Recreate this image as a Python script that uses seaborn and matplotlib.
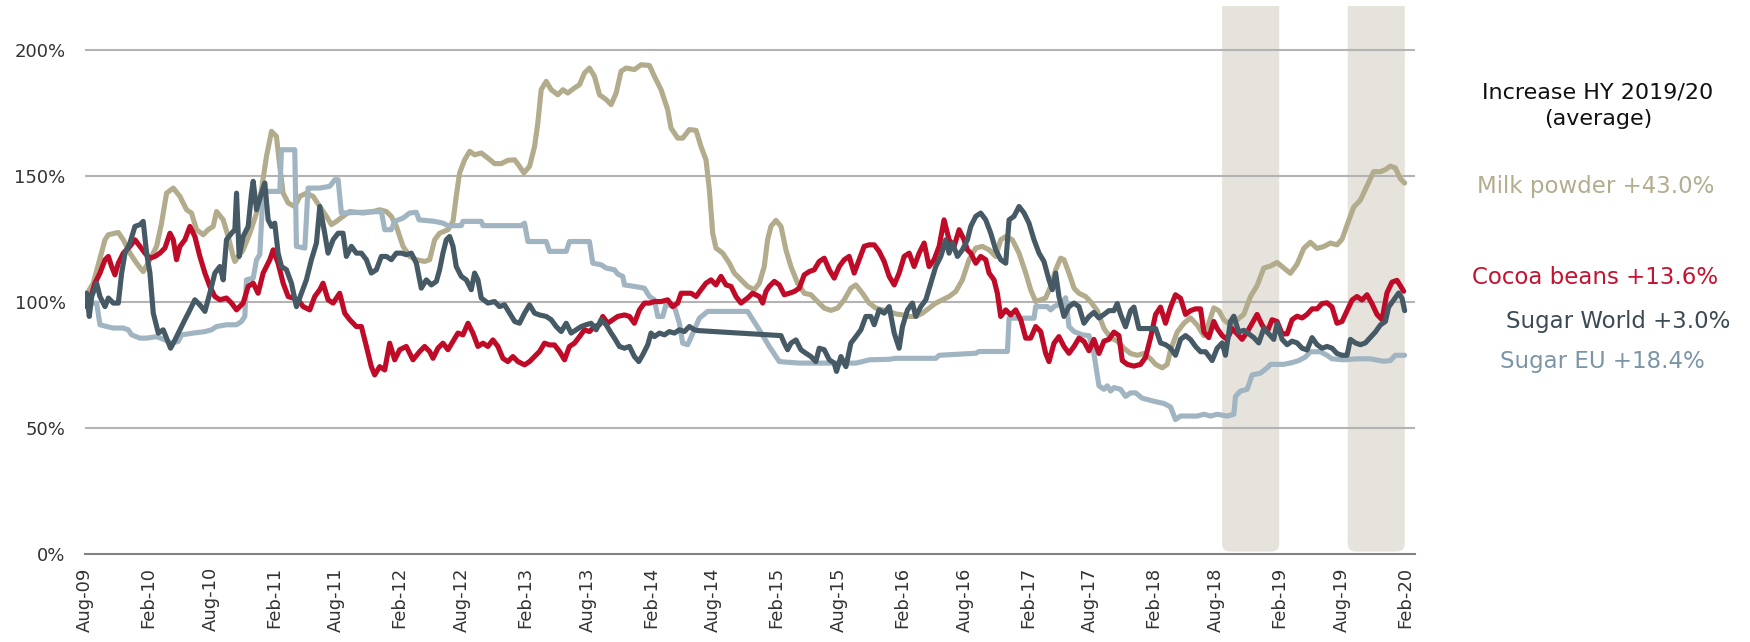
import numpy as np
import pandas as pd
import matplotlib
matplotlib.use("Agg")
import matplotlib.pyplot as plt
import matplotlib.dates as mdates
from matplotlib.patches import FancyBboxPatch
from matplotlib.transforms import blended_transform_factory
import seaborn as sns

# ---------------- data (x = months since Aug-2009, y = index in %) ----------------
milk_m = [0.16,0.79,1.91,2.23,3.18,3.66,4.29,4.93,5.41,5.56,6.20,6.84,7.31,7.79,8.43,9.06,9.70,10.17,10.65,11.29,11.76,12.24,12.56,13.20,13.67,14.15,14.31,15.10,15.74,16.38,16.85,17.33,17.81,18.28,18.60,18.92,19.40,20.03,20.51,21.14,21.78,22.42,23.05,23.53,24.01,24.64,25.28,26.55,27.50,28.14,28.78,29.25,29.73,30.37,31.00,31.64,32.43,32.91,33.39,33.86,34.66,35.14,35.45,35.77,36.25,36.73,37.20,37.84,38.47,39.11,39.75,40.38,41.03,41.49,41.91,42.45,42.93,43.24,43.56,44.04,44.52,45.15,45.63,46.10,46.74,47.22,47.69,48.17,48.65,49.13,49.76,50.24,50.72,51.19,51.67,52.46,53.10,53.90,54.37,55.01,55.64,55.96,56.60,57.07,57.71,58.35,58.82,59.30,59.62,59.94,60.25,60.89,61.53,62.00,62.64,63.27,63.91,64.39,64.86,65.18,65.50,65.98,66.46,66.93,67.41,68.04,68.68,69.32,69.95,70.59,71.22,71.86,72.50,73.13,73.61,74.24,74.88,75.52,76.15,76.79,77.42,78.06,78.70,79.33,79.97,80.60,81.24,81.88,82.51,83.15,83.78,84.42,85.06,85.69,86.33,86.96,87.44,87.92,88.55,89.19,89.83,90.30,90.78,91.26,91.73,92.21,92.69,93.16,93.48,93.96,94.44,94.91,95.55,96.03,96.66,97.30,97.93,98.57,99.21,99.84,100.48,101.11,101.75,102.23,102.86,103.34,103.66,104.29,104.93,105.56,106.20,106.84,107.31,107.79,108.27,108.74,109.38,110.02,110.65,111.29,111.92,112.56,113.20,113.83,114.47,115.10,115.74,116.38,117.01,117.65,118.28,118.92,119.55,120.03,120.51,121.14,121.78,122.42,123.05,123.69,124.17,124.64,125.12,125.60,126.01]
milk_v = [103,107.4,124.6,126.6,127.5,124.6,119.3,115.3,112.7,112.0,116.7,122.0,131.2,143.1,145.1,141.8,136.5,135.2,128.6,126.6,128.6,129.9,135.8,132.5,125.9,118.0,116.0,120.6,127.2,135.2,144.4,157.7,167.6,165.6,153.7,143.1,139.2,137.8,141.8,143.1,141.8,137.8,133.9,130.6,131.9,133.9,135.8,135.2,135.8,136.5,135.8,133.9,129.9,122.0,118.0,116.7,116.0,116.7,124.6,127.2,128.6,131.9,141.8,151.1,156.3,159.7,158.3,159.0,157.0,154.8,154.8,156.1,156.3,153.7,151.1,153.7,161.6,170.9,184.1,187.4,184.1,182.1,184.1,182.8,184.8,186.1,190.7,192.7,189.4,182.1,180.2,178.2,182.8,191.4,192.7,192.1,194.0,193.7,189.4,184.1,176.2,168.9,164.9,164.9,168.3,168.0,161.6,156.3,144.4,127.2,121.3,119.3,115.3,111.4,108.7,106.1,104.8,107.4,114.0,124.6,129.9,132.3,129.9,120.6,114.0,107.4,103.4,102.8,100.1,97.5,96.6,97.5,100.8,105.4,106.7,103.4,99.5,97.5,96.8,96.2,95.2,94.8,94.2,94.2,95.5,97.5,99.5,100.8,102.1,104.1,108.7,116.7,121.3,122.0,120.6,118.0,124.6,125.9,124.6,119.3,111.4,104.8,100.1,100.8,101.5,106.1,112.7,117.3,116.7,111.4,105.4,103.4,102.1,100.0,96.5,89.4,85.8,84.4,81.6,79.5,78.8,79.5,77.4,75.2,73.8,75.2,80.9,88.0,91.5,93.6,90.8,86.6,91.5,97.6,96.5,92.9,90.8,92.9,95.0,102.1,106.4,113.4,114.2,115.6,113.4,111.3,114.9,121.2,123.6,121.2,121.9,123.3,122.6,124.8,130.4,137.5,140.3,146.0,151.6,151.6,152.4,153.8,153.1,148.8,147.1]

cocoa_m = [0.16,0.48,0.95,1.43,1.91,2.23,2.54,2.86,3.18,3.66,4.29,4.77,5.25,5.72,6.20,6.68,7.15,7.63,8.11,8.43,8.74,9.06,9.54,10.02,10.49,10.97,11.45,11.92,12.40,12.88,13.51,13.99,14.47,15.10,15.58,16.06,16.53,17.01,17.65,17.97,18.44,18.92,19.40,19.87,20.35,20.83,21.46,21.94,22.42,22.73,23.21,23.69,24.32,24.80,25.28,25.91,26.39,26.87,27.34,27.66,28.14,28.62,29.09,29.57,30.05,30.68,31.32,31.96,32.43,32.91,33.23,33.70,34.18,34.66,35.14,35.61,36.09,36.57,37.04,37.52,38.00,38.47,38.95,39.43,39.90,40.38,40.86,41.34,41.97,42.45,42.93,43.40,43.88,44.36,44.83,45.31,45.79,46.26,46.74,47.22,47.69,48.17,48.65,49.13,49.44,49.92,50.40,50.87,51.51,51.99,52.46,52.94,53.42,53.90,54.37,55.01,55.64,56.12,56.60,56.92,57.39,57.87,58.35,58.82,59.30,59.78,60.25,60.73,61.21,61.69,62.16,62.64,63.27,63.75,64.39,64.71,65.02,65.34,65.82,66.30,66.77,67.25,67.73,68.20,68.68,69.16,69.63,70.11,70.59,71.07,71.54,72.02,72.50,72.97,73.45,73.93,74.40,74.88,75.36,75.83,76.31,76.79,77.27,77.74,78.22,78.70,79.17,79.65,80.13,80.60,81.08,81.56,82.03,82.51,82.99,83.47,83.94,84.26,84.58,85.06,85.53,86.01,86.33,86.80,87.12,87.44,87.92,88.39,88.87,89.35,89.83,90.30,90.78,91.26,91.73,92.05,92.53,93.00,93.48,93.96,94.44,94.91,95.39,95.87,96.34,96.82,97.30,97.77,98.25,98.73,99.05,99.52,100.16,100.79,101.27,101.75,102.23,102.70,103.18,103.66,104.13,104.61,105.09,105.56,106.04,106.52,106.84,107.31,107.79,108.11,108.59,109.06,109.54,110.02,110.49,110.97,111.45,111.92,112.40,112.88,113.35,113.83,114.31,114.79,115.26,115.74,116.22,116.69,117.17,117.65,118.12,118.60,119.08,119.55,120.03,120.51,120.99,121.46,121.94,122.42,122.89,123.37,123.85,124.32,124.80,125.28,125.60,125.91]
cocoa_v = [98.1,100.8,107.4,111.4,116.7,118.0,114.0,110.7,115.3,119.3,122.0,124.6,122.0,119.3,117.3,118.0,119.3,121.3,127.2,124.6,116.7,122.0,124.6,129.9,125.9,118.0,111.4,106.1,102.1,100.8,101.5,99.5,96.8,99.5,106.1,107.4,103.4,111.4,116.7,120.6,115.3,107.4,102.1,101.5,100.8,98.1,96.8,102.1,104.8,107.4,100.8,99.5,103.4,95.5,92.9,90.2,90.2,82.3,74.3,71.0,74.3,73.0,83.6,77.0,81.0,82.3,77.0,80.3,82.3,80.3,77.6,81.6,83.6,81.0,84.3,87.6,86.9,91.5,87.6,82.3,83.6,82.3,84.9,82.3,77.6,76.3,78.3,76.3,75.0,76.3,78.3,80.3,83.6,82.9,82.9,80.3,77.0,82.3,83.6,86.2,88.9,88.2,90.2,90.9,94.2,91.5,92.9,94.2,94.8,94.2,91.5,96.8,99.5,99.5,100.1,100.1,100.8,98.1,99.5,103.4,103.4,103.4,102.1,104.8,107.4,108.7,106.7,110.1,106.7,106.1,102.1,99.5,101.5,103.4,102.1,99.5,104.1,106.1,108.1,106.7,102.8,103.4,104.1,105.4,110.7,112.0,112.7,116.0,117.3,112.7,109.4,114.0,116.7,118.0,111.4,116.7,122.0,122.6,122.6,120.0,116.0,110.1,106.7,111.4,118.0,119.3,114.0,119.3,123.3,114.0,116.7,122.0,132.5,124.6,122.0,128.6,124.6,120.6,119.3,115.3,118.0,116.7,111.4,108.7,103.4,94.2,96.8,94.8,96.8,92.9,85.6,85.6,90.2,88.2,79.6,76.3,83.6,86.2,82.3,79.6,82.3,85.6,84.3,80.6,85.1,79.5,84.4,85.1,88.0,86.6,76.7,75.2,74.5,75.2,78.0,85.8,95.0,97.9,91.5,97.9,102.8,101.4,95.0,96.5,97.2,97.2,88.0,85.8,92.2,89.4,86.6,85.1,89.4,87.3,85.1,88.0,91.5,95.0,90.8,88.0,92.9,92.2,87.3,87.3,92.9,94.3,93.6,95.0,97.2,97.2,99.3,99.6,97.9,91.5,92.2,96.5,100.7,102.1,100.7,102.8,99.3,95.0,92.9,103.5,107.8,108.5,106.4,104.2]

sugar_world_m = [0.16,0.41,0.64,1.11,1.43,1.91,2.23,2.70,3.18,3.50,3.82,4.29,4.77,5.25,5.56,5.88,6.20,6.52,7.00,7.47,7.85,8.17,8.59,9.06,9.54,10.02,10.49,10.97,11.45,11.92,12.40,12.88,13.20,13.51,13.99,14.31,14.47,14.72,15.10,15.58,15.90,16.06,16.38,16.85,17.17,17.49,17.81,18.12,18.44,18.76,19.24,19.71,20.19,20.67,21.14,21.62,22.10,22.42,22.89,23.21,23.69,24.17,24.64,24.96,25.44,25.91,26.39,26.87,27.34,27.82,28.30,28.78,29.25,29.73,30.21,30.68,31.16,31.64,32.11,32.59,33.07,33.55,33.86,34.18,34.50,34.82,35.14,35.45,35.93,36.41,36.88,37.20,37.52,37.84,38.47,39.11,39.59,40.06,40.54,41.03,41.49,41.97,42.45,42.93,43.40,44.04,44.52,44.99,45.47,45.95,46.42,46.90,47.38,47.85,48.33,48.81,49.28,49.76,50.24,50.56,51.03,51.51,51.99,52.46,52.88,53.26,53.74,54.05,54.37,54.85,55.33,55.80,56.28,56.76,57.23,57.71,58.19,58.51,66.46,66.77,67.09,67.41,67.89,68.36,68.84,69.32,69.79,70.11,70.59,71.07,71.54,71.76,72.18,72.66,73.13,73.61,74.09,74.56,75.04,75.36,75.83,76.31,76.79,77.27,77.74,78.06,78.54,79.01,79.33,79.81,80.29,80.76,81.24,81.72,82.19,82.51,82.83,83.31,83.78,84.26,84.58,85.06,85.53,86.01,86.49,86.96,87.44,87.92,88.24,88.71,89.19,89.67,90.14,90.62,91.10,91.57,92.05,92.37,92.69,93.00,93.48,93.96,94.44,94.91,95.39,95.87,96.34,96.82,97.30,97.77,98.25,98.57,98.89,99.36,99.84,100.16,100.64,101.11,101.75,102.23,102.70,103.18,103.66,104.13,104.61,105.09,105.56,106.04,106.52,107.00,107.63,108.11,108.59,108.90,109.38,109.70,110.17,110.65,111.13,111.61,112.08,112.56,113.04,113.51,113.83,114.31,114.79,115.26,115.74,116.22,116.69,117.17,117.65,118.12,118.60,119.08,119.55,120.03,120.51,120.83,121.30,121.78,122.26,122.73,123.21,123.69,124.17,124.48,124.96,125.44,125.76,126.01]
sugar_world_v = [103.4,94.2,102.1,107.4,102.1,98.1,101.5,99.5,99.5,111.4,119.3,123.3,129.9,130.6,131.9,119.3,111.4,95.5,87.6,88.9,84.9,81.6,84.9,88.9,92.9,96.8,100.8,98.8,96.2,103.4,111.4,114.0,108.7,124.6,127.2,128.6,143.1,118.0,125.9,129.9,143.1,147.8,136.5,143.1,147.1,132.5,129.9,131.2,119.3,114.0,112.7,107.4,98.1,103.4,108.7,116.7,123.3,137.8,127.2,119.3,124.6,127.2,127.2,118.0,122.0,119.3,119.3,116.7,111.4,112.7,118.0,118.0,116.7,119.3,119.3,118.7,119.3,115.3,105.4,108.7,106.7,108.1,112.7,119.3,124.6,125.9,122.0,114.0,110.1,108.7,104.8,111.4,108.7,101.5,99.5,100.1,98.1,98.8,95.5,92.2,91.5,95.5,98.8,95.5,94.8,94.2,92.9,90.2,88.2,91.5,87.6,88.9,90.2,90.9,91.5,88.9,92.9,90.9,87.6,85.6,82.3,81.6,82.3,78.3,76.3,79.0,83.0,87.6,86.2,87.6,86.9,88.2,87.6,88.9,88.2,90.2,88.9,88.6,86.6,83.6,81.0,83.6,84.9,81.0,79.6,78.3,76.3,81.6,81.0,77.0,75.7,72.4,78.3,74.3,83.6,86.2,88.9,94.2,94.2,90.9,96.8,95.5,98.1,87.6,81.6,90.2,96.8,99.5,94.2,98.1,100.8,107.4,114.0,118.0,124.6,119.3,123.3,118.0,120.6,124.6,129.9,133.9,135.2,132.5,127.2,120.6,116.7,115.3,132.5,133.9,137.8,135.2,131.2,124.6,119.3,116.0,108.7,104.8,111.4,102.1,94.2,98.1,99.5,98.1,91.5,94.2,95.8,93.6,95.0,96.5,96.5,99.3,95.0,90.1,96.5,97.9,89.4,89.4,89.4,89.4,83.7,83.0,81.6,78.8,85.1,86.6,85.1,82.3,80.2,80.2,76.7,81.6,83.7,78.8,92.2,94.3,88.0,88.7,87.3,85.8,83.7,89.4,87.3,85.1,91.5,85.1,83.0,84.4,83.7,81.6,80.9,85.8,83.0,81.6,82.3,81.6,79.5,78.8,78.8,85.1,83.7,83.0,83.7,85.8,88.0,90.8,92.2,97.9,100.7,103.5,101.4,96.5]

sugar_eu_m = [0.16,1.11,1.43,2.07,2.70,3.66,4.13,4.45,5.25,5.88,6.84,7.63,8.27,8.90,9.22,10.33,11.45,12.08,12.56,13.51,14.47,14.94,15.26,15.42,16.06,16.38,16.69,17.01,18.60,18.76,20.03,20.19,20.99,21.30,22.42,23.37,23.85,24.17,24.48,28.30,28.62,29.25,29.57,30.37,31.00,31.64,31.90,33.39,34.18,34.66,35.93,36.09,37.84,38.00,41.65,41.97,42.29,44.04,44.36,45.95,46.26,48.17,48.49,49.28,49.76,50.56,50.87,51.35,51.51,52.46,53.42,53.90,54.37,54.69,55.17,55.48,56.28,56.76,57.07,57.55,58.19,58.66,59.46,63.27,64.39,65.34,66.30,68.20,73.61,74.24,74.88,76.79,77.42,81.24,81.56,85.06,85.37,88.08,88.24,90.62,90.78,91.89,92.21,92.53,93.32,93.64,93.96,94.44,95.23,95.87,96.34,96.82,97.30,97.62,97.93,98.25,98.89,99.36,99.84,100.32,100.95,101.59,102.23,103.02,103.66,104.13,104.61,105.56,106.20,106.84,107.47,108.11,109.06,109.70,109.86,110.33,110.97,111.45,112.24,112.88,113.20,114.47,115.26,115.90,116.53,117.01,117.97,118.60,119.08,120.19,121.46,122.73,124.00,124.64,125.12,126.01]
sugar_eu_v = [99.5,99.5,90.9,90.2,89.6,89.6,88.9,86.9,85.6,85.6,86.2,84.9,83.6,84.3,86.9,87.6,88.2,88.9,90.2,90.9,90.9,92.2,94.2,108.7,109.4,116.7,118.7,143.8,143.8,160.3,160.3,122.0,121.3,145.1,145.1,145.8,148.4,148.4,135.2,135.8,128.6,128.6,131.9,133.2,135.2,135.5,132.5,131.9,131.2,130.2,130.2,131.9,131.9,130.2,130.2,131.2,123.9,123.9,120.0,120.0,123.9,123.9,115.3,114.7,113.4,112.7,111.0,110.1,106.7,106.1,105.4,102.1,100.8,94.2,94.2,99.0,98.1,91.5,83.6,83.0,88.9,93.5,96.2,96.2,88.9,82.3,76.3,75.7,75.7,76.3,77.0,77.2,77.6,77.6,78.8,79.6,80.3,80.3,93.5,93.5,98.1,98.1,96.8,98.1,99.5,101.6,90.2,88.2,86.9,86.6,79.5,66.7,65.3,66.7,64.6,66.0,65.3,62.5,63.9,63.9,61.8,61.1,60.4,59.7,58.3,53.3,54.7,54.7,54.7,55.4,54.7,55.4,54.7,55.4,62.5,64.6,65.3,71.0,71.7,73.8,75.2,75.2,75.9,76.7,78.1,80.2,80.2,78.8,77.4,77.0,77.4,77.4,76.4,76.7,78.8,78.8]

series_names = ["Milk powder", "Cocoa beans", "Sugar World", "Sugar EU"]
increase_pct = [43.0, 13.6, 3.0, 18.4]
y_ticks = [0, 50, 100, 150, 200]
shade_periods = [("2018-08-19", "2019-02-01"), ("2019-08-19", "2020-02-01")]
title_lines = ["Increase HY 2019/20", "(average)"]

# ---------------- styling ----------------
line_colors = {"Milk powder": "#b2ac8d", "Cocoa beans": "#bf0b27",
               "Sugar World": "#465a66", "Sugar EU": "#a0b4c1"}
text_colors = {"Milk powder": "#b3ad8f", "Cocoa beans": "#c41230",
               "Sugar World": "#3c4b53", "Sugar EU": "#7b95a7"}

START = pd.Timestamp("2009-08-01")
def to_date(m):
    return START + pd.to_timedelta(np.asarray(m, dtype=float) * 30.4375, unit="D")

frames = []
for name, mm, vv in [("Milk powder", milk_m, milk_v), ("Cocoa beans", cocoa_m, cocoa_v),
                     ("Sugar World", sugar_world_m, sugar_world_v), ("Sugar EU", sugar_eu_m, sugar_eu_v)]:
    frames.append(pd.DataFrame({"date": to_date(mm), "value": vv, "series": name}))
df = pd.concat(frames, ignore_index=True)

sns.set_theme(style="white")
plt.rcParams["font.family"] = ["DejaVu Sans"]

W, H = 1750, 642
fig = plt.figure(figsize=(W / 100, H / 100), dpi=100)
ax = fig.add_axes([85 / W, 88 / H, 1330 / W, 548 / H])

x_end = START + pd.Timedelta(days=127 * 30.4375)
ax.set_xlim(START, x_end)
ax.set_ylim(0, 217.3)

# shaded half-year periods with rounded bottom corners
trans = blended_transform_factory(ax.transData, ax.transAxes)
days_per_px = (x_end - START).days / 1330.0
r_days = 8 * days_per_px
aspect = (1.0 / 548) / days_per_px
for s, e in shade_periods:
    x0 = mdates.date2num(pd.Timestamp(s))
    x1 = mdates.date2num(pd.Timestamp(e))
    p = FancyBboxPatch((x0, 0.0045), x1 - x0, 1.2,
                       boxstyle=f"round,pad=0,rounding_size={r_days}",
                       mutation_aspect=aspect, transform=trans,
                       facecolor="#e6e3dc", edgecolor="none", zorder=0.3)
    ax.add_patch(p)

for y in y_ticks[1:]:
    ax.axhline(y, color="#b3b3b3", lw=1.5, zorder=1)

order = ["Milk powder", "Sugar EU", "Cocoa beans", "Sugar World"]
sns.lineplot(data=df, x="date", y="value", hue="series", hue_order=order,
             palette=line_colors, estimator=None, sort=False, legend=False,
             linewidth=3.7, ax=ax, zorder=3,
             solid_joinstyle="round", solid_capstyle="round")

ax.set_xlabel("")
ax.set_ylabel("")
for side in ["top", "right", "left"]:
    ax.spines[side].set_visible(False)
ax.spines["bottom"].set_color("#828282")
ax.spines["bottom"].set_linewidth(1.5)
ax.spines["bottom"].set_zorder(4)

ax.set_yticks(y_ticks)
ax.set_yticklabels([f"{t}%" for t in y_ticks])
ax.tick_params(axis="y", length=0, pad=14, labelsize=13, labelcolor="#333333")

ax.xaxis.set_major_locator(mdates.MonthLocator(bymonth=[2, 8]))
ax.xaxis.set_minor_locator(mdates.MonthLocator(bymonth=[5, 11]))
ax.xaxis.set_major_formatter(mdates.DateFormatter("%b-%y"))
ax.tick_params(axis="x", which="major", direction="inout", length=9, width=1.5,
               color="#828282", pad=5, labelsize=13, labelcolor="#333333",
               labelrotation=90)
ax.tick_params(axis="x", which="minor", direction="inout", length=6, width=1.5,
               color="#828282")
ax.grid(False)
ax.patch.set_alpha(0)

# right-hand annotation
fig.text(1598 / W, 1 - 98.3 / H, title_lines[0], ha="center", va="baseline",
         fontsize=16, color="#111111")
fig.text(1598 / W, 1 - 125 / H, title_lines[1], ha="center", va="baseline",
         fontsize=16, color="#111111")
label_pos = {"Milk powder": (1595.5, 193.3), "Cocoa beans": (1595.5, 284.0),
             "Sugar World": (1618.0, 328.3), "Sugar EU": (1602.5, 368.3)}
for name, inc in zip(series_names, increase_pct):
    x, y = label_pos[name]
    fig.text(x / W, 1 - y / H, f"{name} +{inc:.1f}%", ha="center", va="baseline",
             fontsize=16.5, color=text_colors[name])

fig.savefig("out.png", dpi=100)
